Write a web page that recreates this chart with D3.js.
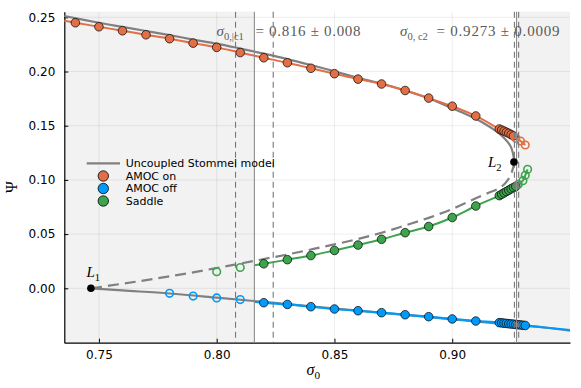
<!DOCTYPE html>
<html>
<head>
<meta charset="utf-8">
<script src="https://cdn.jsdelivr.net/npm/d3@7"></script>
<style>
html,body{margin:0;padding:0;background:#fff;}
svg{display:block;}
</style>
</head>
<body>
<svg id="chart" width="581" height="388"></svg>
<script>
// ---------- data ----------
const xTickValues = [0.75, 0.80, 0.85, 0.90];
const xTickLabels = ["0.75", "0.80", "0.85", "0.90"];
const yTickValues = [0.00, 0.05, 0.10, 0.15, 0.20, 0.25];
const yTickLabels = ["0.00", "0.05", "0.10", "0.15", "0.20", "0.25"];

// Uncoupled Stommel model (gray)
const stommelUpperSigma = [0.7353,0.75,0.76,0.77,0.78,0.79,0.80,0.81,0.82,0.83,0.84,0.85,0.86,0.87,0.88,0.89,0.90,0.905,0.91,0.915,0.918,0.92,0.922,0.924,0.925,0.9257,0.9261,0.9262];
const stommelUpperPsi   = [0.2512,0.2450,0.2412,0.2374,0.2336,0.2295,0.2257,0.2212,0.2165,0.2115,0.2060,0.2002,0.1942,0.1887,0.1825,0.1752,0.1662,0.1615,0.1564,0.1502,0.1460,0.1427,0.1387,0.1337,0.1300,0.1252,0.1207,0.1165];
const stommelSaddleSigma = [0.9262,0.9260,0.9255,0.9248,0.9238,0.9225,0.9210,0.9190,0.9165,0.914,0.91,0.90,0.89,0.88,0.87,0.86,0.85,0.84,0.83,0.82,0.81,0.80,0.79,0.78,0.77,0.76,0.7466];
const stommelSaddlePsi   = [0.1165,0.1125,0.1085,0.1045,0.1005,0.0970,0.0940,0.0912,0.0890,0.0868,0.0830,0.0732,0.0650,0.0580,0.0512,0.0455,0.0405,0.0358,0.0312,0.0270,0.0228,0.0187,0.0147,0.0110,0.0075,0.0042,0.0];
const stommelLowerSigma = [0.7466,0.76,0.78,0.80,0.82,0.84,0.86,0.88,0.90,0.92,0.94,0.95];
const stommelLowerPsi   = [0.0,-0.0020,-0.0048,-0.0086,-0.0126,-0.0166,-0.0206,-0.0246,-0.0286,-0.0326,-0.0364,-0.0392];

// Fold points
const foldNames = ["L1", "L2"];
const foldSigma = [0.7466, 0.9262];
const foldPsi = [0.0, 0.1165];

// AMOC on (orange)
const amocOnSigma = [0.74,0.75,0.76,0.77,0.78,0.79,0.80,0.81,0.82,0.83,0.84,0.85,0.86,0.87,0.88,0.89,0.90,0.91,0.920,0.921,0.922,0.923,0.924,0.925,0.926,0.927,0.929,0.931];
const amocOnPsi   = [0.2450,0.2413,0.2376,0.2339,0.2303,0.2262,0.2223,0.2175,0.2127,0.2081,0.2030,0.1980,0.1930,0.1885,0.1825,0.1755,0.1680,0.1590,0.1470,0.1460,0.1450,0.1440,0.1430,0.1418,0.1406,0.1384,0.1359,0.1322];
const amocOnHollow = [0,0,0,0,0,0,0,0,0,0,0,0,0,0,0,0,0,0,0,0,0,0,0,0,0,1,1,1];
const amocOnLineSigma = [0.7353].concat(amocOnSigma);
const amocOnLinePsi = [0.2469].concat(amocOnPsi);

// AMOC off (blue)
const amocOffSigma = [0.78,0.79,0.80,0.81,0.82,0.83,0.84,0.85,0.86,0.87,0.88,0.89,0.90,0.91,0.920,0.921,0.922,0.923,0.924,0.925,0.926,0.927,0.928,0.929,0.930,0.931];
const amocOffPsi   = [-0.0046,-0.0072,-0.0089,-0.0104,-0.0133,-0.0149,-0.0170,-0.0191,-0.0207,-0.0225,-0.0244,-0.0262,-0.0283,-0.0302,-0.0317,-0.0319,-0.0322,-0.0324,-0.0327,-0.0329,-0.0331,-0.0334,-0.0336,-0.0338,-0.0341,-0.0343];
const amocOffHollow = [1,1,1,1,0,0,0,0,0,0,0,0,0,0,0,0,0,0,0,0,0,0,0,0,0,0];
const amocOffLineSigma = [0.816,0.82,0.83,0.84,0.85,0.86,0.87,0.88,0.89,0.90,0.91,0.92,0.931,0.95];
const amocOffLinePsi   = [-0.0126,-0.0133,-0.0149,-0.0170,-0.0191,-0.0207,-0.0225,-0.0244,-0.0262,-0.0283,-0.0302,-0.0317,-0.0343,-0.0385];

// Saddle (green)
const saddleSigma = [0.80,0.81,0.82,0.83,0.84,0.85,0.86,0.87,0.88,0.89,0.90,0.91,0.920,0.921,0.922,0.923,0.924,0.925,0.926,0.927,0.928,0.930,0.931,0.932];
const saddlePsi   = [0.0153,0.0192,0.0226,0.0264,0.0302,0.0349,0.0399,0.0452,0.0513,0.0570,0.0653,0.0759,0.0855,0.0868,0.0880,0.0893,0.0905,0.0918,0.0930,0.0940,0.0958,0.0993,0.1042,0.1098];
const saddleHollow = [1,1,0,0,0,0,0,0,0,0,0,0,0,0,0,0,0,0,0,0,1,1,1,1];
const saddleLineSigma = [0.816].concat(saddleSigma.slice(2));
const saddleLinePsi = [0.0212].concat(saddlePsi.slice(2));

// Critical values
const critC1 = [0.816, 0.008];
const critC2 = [0.9273, 0.0009];

// Legend
const legendLabels = ["Uncoupled Stommel model", "AMOC on", "AMOC off", "Saddle"];

// ---------- drawing ----------
const colOn = "#e26f46", colOff = "#009af9", colSad = "#3da44d", colGray = "#808080";
const svg = d3.select("#chart");
const L = 64.3, R = 570, T = 11.7, B = 342.7;
const x = d3.scaleLinear().domain([0.7353, 0.95]).range([L, R]);
const y = d3.scaleLinear().domain([-0.0502, 0.2552]).range([B, T]);

// shaded regions
svg.append("rect").attr("x", x(0.7353)).attr("y", T).attr("width", x(critC1[0]) - x(0.7353)).attr("height", B - T).attr("fill", "#f2f2f2");
svg.append("rect").attr("x", x(critC2[0])).attr("y", T).attr("width", x(0.95) - x(critC2[0])).attr("height", B - T).attr("fill", "#f2f2f2");

// grid
const grid = svg.append("g").attr("stroke", "#000").attr("stroke-opacity", 0.09).attr("stroke-width", 0.8);
xTickValues.forEach(v => grid.append("line").attr("x1", x(v)).attr("x2", x(v)).attr("y1", T).attr("y2", B));
yTickValues.forEach(v => grid.append("line").attr("x1", L).attr("x2", R).attr("y1", y(v)).attr("y2", y(v)));

// axes
const fontSans = "DejaVu Sans, sans-serif";
const xAxis = svg.append("g").attr("transform", `translate(0,${B})`)
  .call(d3.axisBottom(x).tickValues(xTickValues).tickFormat((d, i) => xTickLabels[i]).tickSize(-4).tickPadding(7.5).tickSizeOuter(0));
const yAxis = svg.append("g").attr("transform", `translate(${L},0)`)
  .call(d3.axisLeft(y).tickValues(yTickValues).tickFormat((d, i) => yTickLabels[i]).tickSize(-4).tickPadding(9).tickSizeOuter(0));
[xAxis, yAxis].forEach(a => {
  a.attr("font-family", fontSans).attr("font-size", 12);
  a.selectAll("text").attr("fill", "#000").style("font-family", fontSans).style("font-size", "12px");
  a.select(".domain").attr("stroke", "#000").attr("stroke-width", 1.2);
  a.selectAll(".tick line").attr("stroke", "#000");
});

const mkLine = d3.line().x(d => x(d[0])).y(d => y(d[1])).curve(d3.curveCatmullRom.alpha(0.5));
const zip = (a, b) => a.map((v, i) => [v, b[i]]);

const plot = svg.append("g");
// gray model
plot.append("path").attr("d", mkLine(zip(stommelUpperSigma, stommelUpperPsi))).attr("fill", "none").attr("stroke", colGray).attr("stroke-width", 2.2);
plot.append("path").attr("d", mkLine(zip(stommelSaddleSigma, stommelSaddlePsi))).attr("fill", "none").attr("stroke", colGray).attr("stroke-width", 2.2).attr("stroke-dasharray", "11,6");
plot.append("path").attr("d", mkLine(zip(stommelLowerSigma, stommelLowerPsi))).attr("fill", "none").attr("stroke", colGray).attr("stroke-width", 2.2);

// colored lines
plot.append("path").attr("d", mkLine(zip(amocOnLineSigma, amocOnLinePsi))).attr("fill", "none").attr("stroke", colOn).attr("stroke-width", 2);
plot.append("path").attr("d", mkLine(zip(amocOffLineSigma, amocOffLinePsi))).attr("fill", "none").attr("stroke", colOff).attr("stroke-width", 2.2);
plot.append("path").attr("d", mkLine(zip(saddleLineSigma, saddleLinePsi))).attr("fill", "none").attr("stroke", colSad).attr("stroke-width", 2);

// markers
function drawMarkers(sig, psi, hollow, col) {
  sig.forEach((s, i) => {
    const c = plot.append("circle").attr("cx", x(s)).attr("cy", y(psi[i])).attr("r", hollow[i] ? 3.8 : 4.3);
    if (hollow[i]) c.attr("fill", "none").attr("stroke", col).attr("stroke-width", 1.6);
    else c.attr("fill", col).attr("stroke", "#000").attr("stroke-width", 0.7);
  });
}
drawMarkers(amocOnSigma, amocOnPsi, amocOnHollow, colOn);
drawMarkers(amocOffSigma, amocOffPsi, amocOffHollow, colOff);
drawMarkers(saddleSigma, saddlePsi, saddleHollow, colSad);

// vertical critical lines
function vline(v, dashed) {
  const l = plot.append("line").attr("x1", x(v)).attr("x2", x(v)).attr("y1", T).attr("y2", B)
    .attr("stroke", dashed ? "#777" : "#8c8c8c").attr("stroke-width", 1.1);
  if (dashed) l.attr("stroke-dasharray", "6,4");
}
vline(critC1[0], false); vline(critC1[0] - critC1[1], true); vline(critC1[0] + critC1[1], true);
vline(critC2[0], false); vline(critC2[0] - critC2[1], true); vline(critC2[0] + critC2[1], true);

// fold points
foldSigma.forEach((s, i) => plot.append("circle").attr("cx", x(s)).attr("cy", y(foldPsi[i])).attr("r", 3.8).attr("fill", "#000"));

const serif = "Liberation Serif, Times New Roman, serif";
function subLabel(xp, yp, main, sub, size, col) {
  const t = svg.append("text").attr("x", xp).attr("y", yp).attr("font-family", serif).attr("font-size", size).attr("fill", col);
  t.append("tspan").attr("font-style", "italic").text(main);
  t.append("tspan").attr("font-size", size * 0.7).attr("dy", size * 0.25).text(sub);
  return t;
}
subLabel(86.5, 277, "L", "1", 15, "#000");
subLabel(488, 167, "L", "2", 15, "#000");

// annotations
const annCol = "#5a5a5a";
subLabel(216.5, 36, "σ", "0,|c1", 15, annCol);
svg.append("text").attr("x", 255.5).attr("y", 36).attr("font-family", serif).attr("font-size", 15).attr("fill", annCol)
  .attr("textLength", 105).attr("lengthAdjust", "spacing")
  .text(`= ${critC1[0].toFixed(3)} ± ${critC1[1].toFixed(3)}`);
subLabel(400, 36, "σ", "0, c2", 15, annCol);
svg.append("text").attr("x", 436.5).attr("y", 36).attr("font-family", serif).attr("font-size", 15).attr("fill", annCol)
  .attr("textLength", 123).attr("lengthAdjust", "spacing")
  .text(`= ${critC2[0].toFixed(4)} ± ${critC2[1].toFixed(4)}`);

// axis labels
subLabel(306.5, 375, "σ", "0", 16, "#000");
svg.append("text").attr("transform", "translate(17,187) rotate(-90)").attr("text-anchor", "middle")
  .attr("font-family", serif).attr("font-size", 16).attr("fill", "#000").text("Ψ");

// legend
const lg = svg.append("g").attr("font-family", fontSans).attr("font-size", 11);
lg.append("line").attr("x1", 86.7).attr("x2", 120).attr("y1", 163.3).attr("y2", 163.3).attr("stroke", colGray).attr("stroke-width", 2.2);
const legendCols = [colOn, colOff, colSad];
const legendY = [163.3, 176, 188.5, 201];
legendLabels.forEach((lab, i) => {
  lg.append("text").attr("x", 125.7).attr("y", legendY[i]).attr("dy", "0.35em").attr("fill", "#000").text(lab);
  if (i > 0) lg.append("circle").attr("cx", 103.3).attr("cy", legendY[i]).attr("r", 5.2).attr("fill", legendCols[i - 1]).attr("stroke", "#000").attr("stroke-width", 0.8);
});
</script>
</body>
</html>
